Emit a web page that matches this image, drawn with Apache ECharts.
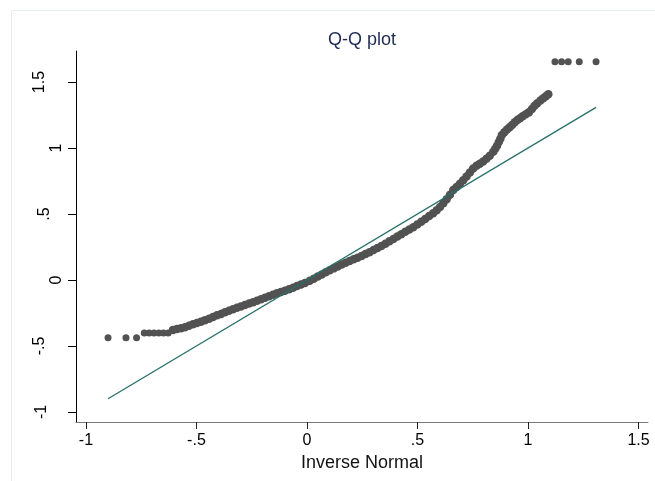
<!DOCTYPE html>
<html>
<head>
<meta charset="utf-8">
<script src="https://cdn.jsdelivr.net/npm/echarts@6/dist/echarts.min.js"></script>
<style>html,body{margin:0;padding:0;background:#fff}#c{width:655px;height:481px}</style>
</head>
<body>
<div id="c"></div>
<script>
// Inverse normal (theoretical) quantiles
const invNormal = [
-0.900,-0.819,-0.771,-0.736,-0.714,-0.692,-0.670,-0.649,-0.628,
-0.606,-0.588,-0.570,-0.552,-0.534,-0.516,-0.498,-0.480,-0.462,-0.443,
-0.425,-0.407,-0.389,-0.371,-0.353,-0.335,-0.317,-0.299,-0.281,-0.262,
-0.244,-0.226,-0.208,-0.190,-0.172,-0.154,-0.136,-0.118,-0.100,-0.081,
-0.063,-0.045,-0.027,-0.009,0.013,0.031,0.049,0.067,0.085,0.103,
0.121,0.139,0.157,0.175,0.193,0.211,0.229,0.247,0.265,0.283,
0.301,0.319,0.337,0.355,0.373,0.391,0.409,0.427,0.445,0.463,
0.481,0.499,0.517,0.535,0.553,0.571,0.587,0.602,0.617,0.632,
0.647,0.662,0.677,0.692,0.707,0.722,0.737,0.752,0.767,0.782,
0.797,0.812,0.827,0.843,0.852,0.860,0.868,0.875,0.882,0.893,
0.905,0.917,0.928,0.940,0.952,0.964,0.976,0.990,1.004,1.018,
1.030,1.042,1.056,1.069,1.081,1.092,
1.122,1.152,1.182,1.232,1.308
];
const sampleQ = [
-0.437,-0.437,-0.437,-0.402,-0.402,-0.402,-0.402,-0.402,-0.402,
-0.378,-0.372,-0.365,-0.358,-0.346,-0.336,-0.326,-0.316,-0.305,-0.293,
-0.280,-0.268,-0.257,-0.245,-0.233,-0.222,-0.211,-0.200,-0.189,-0.179,
-0.168,-0.157,-0.146,-0.135,-0.123,-0.112,-0.101,-0.091,-0.081,-0.070,
-0.058,-0.046,-0.034,-0.022,-0.006,0.010,0.026,0.042,0.058,0.073,
0.088,0.103,0.117,0.131,0.144,0.157,0.169,0.182,0.196,0.211,
0.227,0.242,0.258,0.275,0.293,0.311,0.329,0.347,0.365,0.382,
0.400,0.420,0.441,0.462,0.484,0.505,0.528,0.553,0.581,0.612,
0.646,0.682,0.705,0.730,0.756,0.785,0.815,0.845,0.866,0.880,
0.898,0.918,0.942,0.972,0.995,1.018,1.045,1.070,1.098,1.120,
1.140,1.158,1.175,1.195,1.212,1.225,1.240,1.255,1.270,1.295,
1.320,1.340,1.360,1.377,1.393,1.407,
1.654,1.654,1.654,1.654,1.654
];
// Reference line y = x endpoints
const fitX = [-0.900, 1.308];
const fitY = [-0.900, 1.308];
// Axis ticks and labels
const xTicks = [-1, -0.5, 0, 0.5, 1, 1.5];
const xTickLabels = ['-1', '-.5', '0', '.5', '1', '1.5'];
const yTicks = [-1, -0.5, 0, 0.5, 1, 1.5];
const yTickLabels = ['-1', '-.5', '0', '.5', '1', '1.5'];
const titleText = 'Q-Q plot';
const xName = 'Inverse Normal';

const FONT = "'Liberation Sans', Arial, Helvetica, sans-serif";
function lab(ticks, labels, v) {
  const i = ticks.findIndex(t => Math.abs(t - v) < 1e-9);
  return i >= 0 ? labels[i] : '';
}
// per-label offset class for rotated y labels (Stata offsets by unrotated width)
const yPadKey = {'0':'a','1':'a','.5':'b','-1':'c','-.5':'d','1.5':'d'};
function richStyle(pb){return {fontSize:16,color:'#000',fontFamily:FONT,padding:[0,0,pb,0]};}

const chart = echarts.init(document.getElementById('c'), null, {renderer:'canvas'});
chart.setOption({
  animation: false,
  backgroundColor: '#fff',
  graphic: [{
    type: 'rect', silent: true, z: -10,
    shape: {x: 11.5, y: 10.5, width: 700, height: 500},
    style: {fill: null, stroke: '#e2eded', lineWidth: 1}
  }],
  title: {
    text: titleText, left: 357, top: 26, textAlign: 'center',
    textStyle: {fontSize: 18, fontWeight: 'normal', color: '#1f2b52', fontFamily: FONT}
  },
  grid: {left: 76, right: 7, top: 51, bottom: 59, containLabel: false},
  xAxis: {
    type: 'value', min: -1.045, max: 1.543,
    name: xName, nameLocation: 'middle', nameGap: 20,
    nameTextStyle: {fontSize: 18, color: '#111', fontFamily: FONT},
    splitLine: {show: false},
    axisLine: {show: true, onZero: false, lineStyle: {color: '#7a7a7a', width: 1}},
    axisTick: {show: true, length: 7, customValues: xTicks, lineStyle: {color: '#222'}},
    axisLabel: {
      customValues: xTicks, margin: 11, fontSize: 16, color: '#000', fontFamily: FONT,
      formatter: v => lab(xTicks, xTickLabels, v)
    }
  },
  yAxis: {
    type: 'value', min: -1.076, max: 1.735,
    splitLine: {show: false},
    axisLine: {show: true, onZero: false, lineStyle: {color: '#000', width: 1}},
    axisTick: {show: true, length: 8, customValues: yTicks, lineStyle: {color: '#000'}},
    axisLabel: {
      customValues: yTicks, rotate: 90, margin: 11, fontSize: 16, color: '#000', fontFamily: FONT,
      formatter: v => { const s = lab(yTicks, yTickLabels, v); return '{' + (yPadKey[s] || 'a') + '|' + s + '}'; },
      rich: {a: richStyle(0), b: richStyle(12), c: richStyle(15), d: richStyle(17)}
    }
  },
  series: [
    {
      type: 'scatter', symbol: 'circle',
      // isolated tail dots are smaller than the overlapping dense band
      symbolSize: (val, p) => (p.dataIndex >= 9 && p.dataIndex < invNormal.length - 5) ? 8.5 : 7,
      itemStyle: {color: '#525252', opacity: 1},
      data: invNormal.map((x, i) => [x, sampleQ[i]])
    },
    {
      type: 'line', symbol: 'none', silent: true,
      lineStyle: {color: '#27706a', width: 1.3},
      data: fitX.map((x, i) => [x, fitY[i]])
    }
  ]
});
</script>
</body>
</html>
